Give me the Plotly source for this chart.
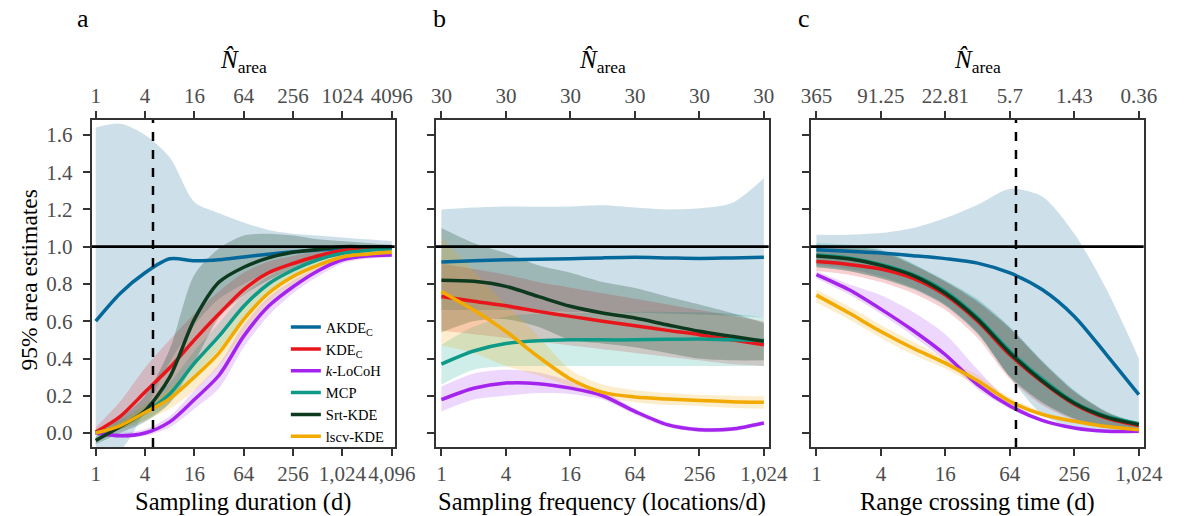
import math
import plotly.graph_objects as go

# ---------------- data ----------------
NAMES = ["AKDE<sub>C</sub>", "KDE<sub>C</sub>", "<i>k</i>-LoCoH", "MCP", "Srt-KDE", "lscv-KDE"]
LINE_COLORS = ["#05689a", "#e8151b", "#a424ee", "#0f9a88", "#0d3a1f", "#f2a900"]
BAND_COLORS = ["rgba(100,160,190,0.32)", "rgba(228,26,28,0.20)", "rgba(160,32,240,0.18)",
               "rgba(16,165,145,0.20)", "rgba(14,59,33,0.25)", "rgba(242,169,0,0.20)"]

# Panel a: sampling duration (d)
A_X = [1, 2, 4, 8, 16, 32, 64, 128, 256, 512, 1024, 2048, 4096]
A_AKDE = [0.60, 0.75, 0.86, 0.935, 0.925, 0.93, 0.945, 0.96, 0.973, 0.982, 0.99, 0.995, 0.995]
A_AKDE_HI = [1.64, 1.66, 1.60, 1.48, 1.24, 1.18, 1.13, 1.09, 1.07, 1.06, 1.05, 1.04, 1.03]
A_AKDE_LO = [-0.12, -0.09, 0.12, 0.38, 0.58, 0.72, 0.80, 0.86, 0.90, 0.93, 0.95, 0.96, 0.97]
A_KDE = [0.005, 0.09, 0.22, 0.35, 0.50, 0.64, 0.77, 0.86, 0.91, 0.95, 0.98, 0.99, 0.99]
A_KDE_HI = [0.03, 0.17, 0.35, 0.50, 0.64, 0.76, 0.86, 0.92, 0.95, 0.98, 1.0, 1.0, 1.0]
A_KDE_LO = [-0.01, 0.02, 0.10, 0.21, 0.36, 0.52, 0.68, 0.80, 0.87, 0.92, 0.96, 0.97, 0.98]
A_LOCOH = [0.0, -0.015, 0.0, 0.06, 0.18, 0.31, 0.52, 0.68, 0.785, 0.87, 0.93, 0.95, 0.955]
A_LOCOH_HI = [0.01, 0.0, 0.02, 0.09, 0.23, 0.37, 0.58, 0.73, 0.82, 0.89, 0.94, 0.96, 0.965]
A_LOCOH_LO = [-0.01, -0.025, -0.015, 0.03, 0.13, 0.24, 0.46, 0.63, 0.75, 0.84, 0.91, 0.935, 0.945]
A_MCP = [0.0, 0.04, 0.11, 0.21, 0.375, 0.52, 0.68, 0.80, 0.875, 0.93, 0.965, 0.98, 0.99]
A_MCP_HI = [0.01, 0.07, 0.15, 0.27, 0.44, 0.59, 0.74, 0.84, 0.91, 0.95, 0.98, 0.99, 1.0]
A_MCP_LO = [-0.01, 0.02, 0.07, 0.16, 0.31, 0.45, 0.61, 0.75, 0.84, 0.90, 0.945, 0.97, 0.98]
A_SRT = [-0.04, 0.035, 0.12, 0.30, 0.61, 0.81, 0.89, 0.94, 0.97, 0.985, 1.0, 1.0, 1.0]
A_SRT_HI = [-0.02, 0.08, 0.20, 0.45, 0.85, 0.99, 1.06, 1.07, 1.06, 1.04, 1.03, 1.02, 1.01]
A_SRT_LO = [-0.06, 0.0, 0.06, 0.16, 0.38, 0.62, 0.74, 0.82, 0.88, 0.93, 0.96, 0.98, 0.99]
A_LSCV = [0.0, 0.04, 0.11, 0.185, 0.30, 0.43, 0.61, 0.75, 0.84, 0.90, 0.945, 0.96, 0.97]
A_LSCV_HI = [0.01, 0.06, 0.15, 0.24, 0.37, 0.50, 0.67, 0.80, 0.88, 0.93, 0.96, 0.975, 0.98]
A_LSCV_LO = [-0.01, 0.02, 0.07, 0.13, 0.23, 0.36, 0.54, 0.70, 0.80, 0.87, 0.93, 0.95, 0.96]

# Panel b: sampling frequency (locations/d)
B_X = [1, 2, 4, 8, 16, 32, 64, 128, 256, 512, 1024]
B_AKDE = [0.918, 0.925, 0.93, 0.932, 0.935, 0.94, 0.943, 0.94, 0.937, 0.94, 0.943]
B_AKDE_HI = [1.20, 1.21, 1.216, 1.215, 1.216, 1.222, 1.21, 1.20, 1.206, 1.234, 1.368]
B_AKDE_LO = [0.66, 0.66, 0.66, 0.655, 0.65, 0.65, 0.645, 0.64, 0.635, 0.63, 0.62]
B_KDE = [0.733, 0.707, 0.683, 0.653, 0.626, 0.60, 0.576, 0.551, 0.528, 0.50, 0.474]
B_KDE_HI = [0.91, 0.88, 0.85, 0.81, 0.78, 0.75, 0.72, 0.69, 0.66, 0.63, 0.60]
B_KDE_LO = [0.55, 0.53, 0.51, 0.49, 0.47, 0.45, 0.43, 0.41, 0.39, 0.37, 0.36]
B_LOCOH = [0.179, 0.24, 0.268, 0.265, 0.241, 0.20, 0.116, 0.045, 0.018, 0.021, 0.054]
B_LOCOH_HI = [0.25, 0.32, 0.34, 0.325, 0.28, 0.225, 0.13, 0.058, 0.03, 0.032, 0.065]
B_LOCOH_LO = [0.116, 0.18, 0.20, 0.215, 0.21, 0.18, 0.10, 0.033, 0.006, 0.01, 0.043]
B_MCP = [0.37, 0.44, 0.48, 0.495, 0.50, 0.50, 0.50, 0.503, 0.505, 0.50, 0.497]
B_MCP_HI = [0.474, 0.57, 0.626, 0.64, 0.644, 0.647, 0.65, 0.65, 0.648, 0.64, 0.62]
B_MCP_LO = [0.26, 0.34, 0.358, 0.36, 0.36, 0.36, 0.36, 0.36, 0.36, 0.36, 0.36]
B_SRT = [0.82, 0.814, 0.787, 0.733, 0.68, 0.644, 0.617, 0.581, 0.546, 0.519, 0.492]
B_SRT_HI = [1.10, 1.02, 0.966, 0.90, 0.86, 0.81, 0.778, 0.733, 0.69, 0.644, 0.59]
B_SRT_LO = [0.54, 0.60, 0.61, 0.57, 0.50, 0.48, 0.46, 0.43, 0.40, 0.39, 0.39]
B_LSCV = [0.76, 0.66, 0.545, 0.41, 0.29, 0.218, 0.193, 0.182, 0.175, 0.168, 0.165]
B_LSCV_HI = [1.05, 0.87, 0.69, 0.52, 0.34, 0.26, 0.23, 0.215, 0.205, 0.20, 0.197]
B_LSCV_LO = [0.47, 0.43, 0.36, 0.31, 0.25, 0.19, 0.165, 0.15, 0.145, 0.135, 0.13]

# Panel c: range crossing time (d)
C_X = [1, 2, 4, 8, 16, 32, 64, 128, 256, 512, 1024]
C_AKDE = [0.984, 0.975, 0.966, 0.952, 0.936, 0.912, 0.859, 0.77, 0.626, 0.42, 0.206]
C_AKDE_HI = [1.064, 1.064, 1.073, 1.10, 1.154, 1.225, 1.31, 1.27, 1.07, 0.77, 0.40]
C_AKDE_LO = [0.90, 0.88, 0.84, 0.78, 0.69, 0.54, 0.30, 0.10, 0.03, 0.01, 0.01]
C_KDE = [0.92, 0.905, 0.88, 0.83, 0.74, 0.60, 0.42, 0.275, 0.155, 0.08, 0.04]
C_KDE_HI = [1.0, 0.99, 0.97, 0.90, 0.81, 0.70, 0.56, 0.38, 0.22, 0.11, 0.05]
C_KDE_LO = [0.87, 0.85, 0.81, 0.75, 0.66, 0.51, 0.29, 0.15, 0.07, 0.025, 0.012]
C_LOCOH = [0.85, 0.77, 0.665, 0.55, 0.42, 0.26, 0.145, 0.068, 0.027, 0.009, 0.009]
C_LOCOH_HI = [0.87, 0.80, 0.74, 0.65, 0.53, 0.34, 0.17, 0.078, 0.03, 0.012, 0.012]
C_LOCOH_LO = [0.83, 0.745, 0.64, 0.52, 0.39, 0.235, 0.13, 0.06, 0.022, 0.006, 0.006]
C_MCP = [0.955, 0.94, 0.905, 0.85, 0.76, 0.62, 0.44, 0.29, 0.165, 0.09, 0.05]
C_MCP_HI = [1.02, 1.01, 0.985, 0.91, 0.82, 0.72, 0.57, 0.39, 0.23, 0.116, 0.055]
C_MCP_LO = [0.89, 0.87, 0.83, 0.77, 0.68, 0.53, 0.30, 0.16, 0.075, 0.03, 0.015]
C_SRT = [0.95, 0.935, 0.90, 0.845, 0.75, 0.61, 0.43, 0.28, 0.16, 0.085, 0.045]
C_SRT_HI = [1.01, 1.0, 0.98, 0.905, 0.815, 0.71, 0.565, 0.385, 0.225, 0.113, 0.053]
C_SRT_LO = [0.89, 0.87, 0.83, 0.775, 0.685, 0.535, 0.305, 0.165, 0.078, 0.032, 0.016]
C_LSCV = [0.74, 0.645, 0.545, 0.455, 0.375, 0.28, 0.17, 0.10, 0.063, 0.035, 0.018]
C_LSCV_HI = [0.77, 0.68, 0.58, 0.49, 0.40, 0.31, 0.19, 0.115, 0.072, 0.042, 0.022]
C_LSCV_LO = [0.70, 0.61, 0.51, 0.42, 0.345, 0.255, 0.155, 0.088, 0.055, 0.028, 0.014]

# Ticks / labels
A_TICKS = [1, 4, 16, 64, 256, 1024, 4096]
A_BOTTOM_TEXT = ["1", "4", "16", "64", "256", "1,024", "4,096"]
A_TOP_TEXT = ["1", "4", "16", "64", "256", "1024", "4096"]
BC_TICKS = [1, 4, 16, 64, 256, 1024]
BC_BOTTOM_TEXT = ["1", "4", "16", "64", "256", "1,024"]
B_TOP_TEXT = ["30", "30", "30", "30", "30", "30"]
C_TOP_TEXT = ["365", "91.25", "22.81", "5.7", "1.43", "0.36"]
Y_TICKS = [0.0, 0.2, 0.4, 0.6, 0.8, 1.0, 1.2, 1.4, 1.6]
Y_RANGE = [-0.075, 1.68]
REF_LEVEL = 1.0
DASH_A = 5
DASH_C = 73
X_TITLES = ["Sampling duration (d)", "Sampling frequency (locations/d)", "Range crossing time (d)"]
PANEL_LETTERS = ["a", "b", "c"]

FONT = "Liberation Serif, Times New Roman, serif"
AXIS_COL = "#333333"
TICK_COL = "#4d4d4d"

fig = go.Figure()

panels = [
    ("x", "y", A_X, [(A_AKDE, A_AKDE_LO, A_AKDE_HI), (A_KDE, A_KDE_LO, A_KDE_HI),
                     (A_LOCOH, A_LOCOH_LO, A_LOCOH_HI), (A_MCP, A_MCP_LO, A_MCP_HI),
                     (A_SRT, A_SRT_LO, A_SRT_HI), (A_LSCV, A_LSCV_LO, A_LSCV_HI)]),
    ("x2", "y2", B_X, [(B_AKDE, B_AKDE_LO, B_AKDE_HI), (B_KDE, B_KDE_LO, B_KDE_HI),
                       (B_LOCOH, B_LOCOH_LO, B_LOCOH_HI), (B_MCP, B_MCP_LO, B_MCP_HI),
                       (B_SRT, B_SRT_LO, B_SRT_HI), (B_LSCV, B_LSCV_LO, B_LSCV_HI)]),
    ("x3", "y3", C_X, [(C_AKDE, C_AKDE_LO, C_AKDE_HI), (C_KDE, C_KDE_LO, C_KDE_HI),
                       (C_LOCOH, C_LOCOH_LO, C_LOCOH_HI), (C_MCP, C_MCP_LO, C_MCP_HI),
                       (C_SRT, C_SRT_LO, C_SRT_HI), (C_LSCV, C_LSCV_LO, C_LSCV_HI)]),
]

for pi, (xa, ya, xs, series) in enumerate(panels):
    # bands
    for si, (mid, lo, hi) in enumerate(series):
        fig.add_trace(go.Scatter(x=xs, y=lo, xaxis=xa, yaxis=ya, mode="lines",
                                 line=dict(width=0, shape="spline", smoothing=0.8, color=BAND_COLORS[si]),
                                 showlegend=False, hoverinfo="skip"))
        fig.add_trace(go.Scatter(x=xs, y=hi, xaxis=xa, yaxis=ya, mode="lines", fill="tonexty",
                                 fillcolor=BAND_COLORS[si],
                                 line=dict(width=0, shape="spline", smoothing=0.8, color=BAND_COLORS[si]),
                                 showlegend=False, hoverinfo="skip"))
    # lines
    for si, (mid, lo, hi) in enumerate(series):
        fig.add_trace(go.Scatter(x=xs, y=mid, xaxis=xa, yaxis=ya, mode="lines", name=NAMES[si],
                                 line=dict(width=3.5, shape="spline", smoothing=0.8, color=LINE_COLORS[si]),
                                 showlegend=(pi == 0), hoverinfo="skip"))

# dashed reference lines
fig.add_trace(go.Scatter(x=[DASH_A, DASH_A], y=Y_RANGE, xaxis="x", yaxis="y", mode="lines",
                         line=dict(color="black", width=2.5, dash="dash"), showlegend=False, hoverinfo="skip"))
fig.add_trace(go.Scatter(x=[DASH_C, DASH_C], y=Y_RANGE, xaxis="x3", yaxis="y3", mode="lines",
                         line=dict(color="black", width=2.5, dash="dash"), showlegend=False, hoverinfo="skip"))

# invisible traces for top axes
for xa, ya, ticks in [("x4", "y", A_TICKS), ("x5", "y2", BC_TICKS), ("x6", "y3", BC_TICKS)]:
    fig.add_trace(go.Scatter(x=ticks, y=[None] * len(ticks), xaxis=xa, yaxis=ya, mode="lines",
                             showlegend=False, hoverinfo="skip"))

# horizontal line at 1.0
for xa, ya in [("x", "y"), ("x2", "y2"), ("x3", "y3")]:
    fig.add_shape(type="line", xref=f"{xa} domain", yref=ya, x0=0, x1=1, y0=REF_LEVEL, y1=REF_LEVEL,
                  line=dict(color="black", width=2.7), layer="above")

W, H = 1190, 516
DOM_A = [84 / W, 395 / W]
DOM_B = [437 / W, 779 / W]
DOM_C = [822 / W, 1164 / W]
DOM_Y = [(H - 447) / H, (H - 120) / H]
RANGE_A = [math.log10(2 ** -0.158), math.log10(2 ** 12.12)]
RANGE_BC = [math.log10(2 ** -0.18), math.log10(2 ** 10.15)]

tickfont = dict(family=FONT, size=21, color=TICK_COL)
xcommon = dict(type="log", showline=True, linecolor=AXIS_COL, linewidth=2, ticks="outside",
               ticklen=7, tickwidth=2, tickcolor=AXIS_COL, showgrid=False, zeroline=False,
               tickfont=tickfont, tickangle=0, fixedrange=True)
ycommon = dict(range=Y_RANGE, domain=DOM_Y, tickvals=Y_TICKS, tickformat=".1f", showline=True,
               mirror=True, linecolor=AXIS_COL, linewidth=2, ticks="outside", ticklen=7, tickwidth=2,
               tickcolor=AXIS_COL, showgrid=False, zeroline=False, tickfont=tickfont, fixedrange=True,
               ticklabelstandoff=6)

fig.update_layout(
    width=W, height=H, autosize=False,
    margin=dict(l=0, r=0, t=0, b=0),
    paper_bgcolor="white", plot_bgcolor="rgba(0,0,0,0)",
    font=dict(family=FONT, color="black"),
    xaxis=dict(domain=DOM_A, range=RANGE_A, anchor="y", tickvals=A_TICKS, ticktext=A_BOTTOM_TEXT, **xcommon),
    xaxis2=dict(domain=DOM_B, range=RANGE_BC, anchor="y2", tickvals=BC_TICKS, ticktext=BC_BOTTOM_TEXT, **xcommon),
    xaxis3=dict(domain=DOM_C, range=RANGE_BC, anchor="y3", tickvals=BC_TICKS, ticktext=BC_BOTTOM_TEXT, **xcommon),
    xaxis4=dict(domain=DOM_A, range=RANGE_A, anchor="y", overlaying="x", side="top", tickvals=A_TICKS,
                ticktext=A_TOP_TEXT, **xcommon),
    xaxis5=dict(domain=DOM_B, range=RANGE_BC, anchor="y2", overlaying="x2", side="top", tickvals=BC_TICKS,
                ticktext=B_TOP_TEXT, **xcommon),
    xaxis6=dict(domain=DOM_C, range=RANGE_BC, anchor="y3", overlaying="x3", side="top", tickvals=BC_TICKS,
                ticktext=C_TOP_TEXT, **xcommon),
    yaxis=dict(anchor="x", **ycommon),
    yaxis2=dict(anchor="x2", showticklabels=False, **ycommon),
    yaxis3=dict(anchor="x3", showticklabels=False, **ycommon),
    legend=dict(x=0.238, y=0.397, xanchor="left", yanchor="top", bgcolor="rgba(0,0,0,0)",
                traceorder="normal",
                font=dict(family=FONT, size=14.5, color="black"), itemwidth=30, tracegroupgap=0),
    showlegend=True,
)

annos = []
centers = [(DOM_A[0] + DOM_A[1]) / 2, (DOM_B[0] + DOM_B[1]) / 2, (DOM_C[0] + DOM_C[1]) / 2]
for i, cx in enumerate(centers):
    annos.append(dict(text=X_TITLES[i], x=cx, y=(H - 502) / H, xref="paper", yref="paper",
                      showarrow=False, font=dict(family=FONT, size=24.5, color="black"),
                      xanchor="center", yanchor="middle"))
    annos.append(dict(text="<i>N̂</i><sub>area</sub>", x=cx, y=(H - 62) / H, xref="paper", yref="paper",
                      showarrow=False, font=dict(family=FONT, size=25, color="black"),
                      xanchor="center", yanchor="middle"))
letter_x = [75, 441, 815]
for i, lx in enumerate(letter_x):
    annos.append(dict(text=PANEL_LETTERS[i], x=lx / W, y=(H - 19) / H, xref="paper", yref="paper",
                      showarrow=False, font=dict(family=FONT, size=26, color="black"),
                      xanchor="center", yanchor="middle"))
annos.append(dict(text="95% area estimates", x=20 / W, y=(H - 280) / H, xref="paper", yref="paper",
                  showarrow=False, textangle=-90, font=dict(family=FONT, size=23.5, color="black"),
                  xanchor="center", yanchor="middle"))
fig.update_layout(annotations=annos)

fig.write_html("out.html")
